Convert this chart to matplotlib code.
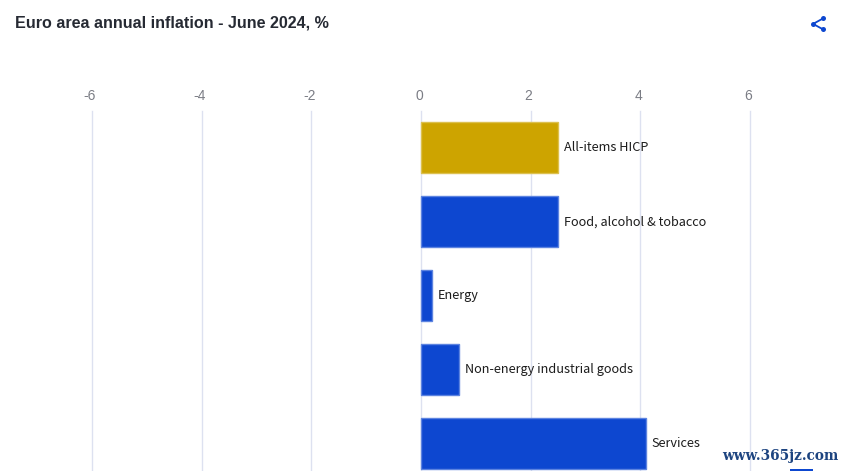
"""Euro area annual inflation bar chart."""

import matplotlib

matplotlib.use("Agg")
import matplotlib.pyplot as plt
from matplotlib.lines import Line2D
from matplotlib.patches import Rectangle

categories = [
    "All-items HICP",
    "Food, alcohol & tobacco",
    "Energy",
    "Non-energy industrial goods",
    "Services",
]
values = [2.5, 2.5, 0.2, 0.7, 4.1]
ticks = [-6, -4, -2, 0, 2, 4, 6]
title = "Euro area annual inflation - June 2024, %"
watermark = "www.365jz.com"

BLUE = "#0d47d0"
GOLD = "#cda400"
W, H = 845, 471

fig = plt.figure(figsize=((W + 0.1) / 100, (H + 0.1) / 100), dpi=100)
ax = fig.add_axes([92.0 / W, 0, (750.0 - 92.0) / W, (H - 111) / H])

colors = [GOLD] + [BLUE] * (len(values) - 1)
edges = ["#dcc04f"] + ["#5d84e0"] * (len(values) - 1)
ypos = range(len(values))
ax.barh(ypos, values, height=0.69, color=colors, edgecolor=edges, linewidth=1, zorder=3)

for y, v, name in zip(ypos, values, categories):
    ax.annotate(name, (v, y), xytext=(4.2, 0), textcoords="offset points", va="center",
                ha="left", fontsize=9.15, color="#1c1c1c", family=["Noto Sans CJK SC", "DejaVu Sans"],
                zorder=4)

ax.set_xlim(ticks[0], ticks[-1])
ax.set_ylim(4.37, -0.5)
ax.set_yticks([])
ax.set_xticks(ticks)
ax.set_xticklabels([])
ax.tick_params(length=0)
ax.grid(axis="x", color="#dde1f0", lw=1, zorder=0)
for gl in ax.get_xgridlines():
    gl.set_clip_on(False)
ax.set_axisbelow(True)
for s in ax.spines.values():
    s.set_visible(False)
for t in ticks:
    ax.annotate(str(t), (t, 1), xycoords=("data", "axes fraction"), xytext=(-1.5, 6),
                textcoords="offset points", ha="center", va="bottom", fontsize=10,
                color="#7b7d85", family="Liberation Sans")

fig.text(15 / W, 1 - 22.5 / H, title, fontsize=11.65, fontweight="bold", color="#262a33",
         family="Liberation Sans", va="center", ha="left")

# share icon, top right
ix = [823, 813, 823]
iy = [18.5, 24, 29.5]
fig.add_artist(Line2D([x / W for x in ix], [1 - y / H for y in iy], color=BLUE, lw=1.3))
fig.add_artist(Line2D([x / W for x in ix], [1 - y / H for y in iy], color=BLUE, lw=0,
                      marker="o", ms=3.6, mew=0))

# site watermark, bottom right
fig.text(722 / W, 1 - 456 / H, watermark, fontsize=9.8, fontweight="bold", color="#1d4480",
         family="DejaVu Serif", va="center", ha="left")
fig.add_artist(Rectangle((790 / W, 0), 23 / W, 1.5 / H, transform=fig.transFigure, color=BLUE, lw=0))

fig.savefig("out.png", dpi=100)
plt.close(fig)
